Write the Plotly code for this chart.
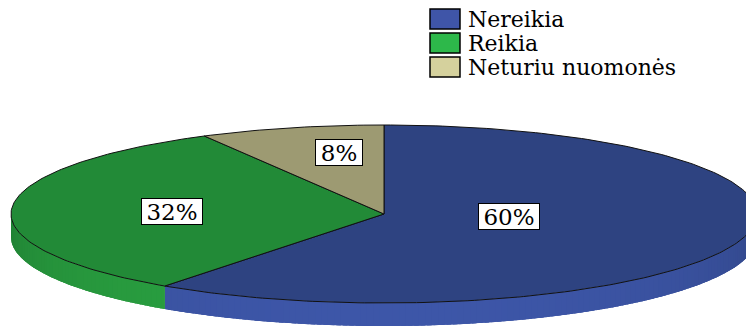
import math
import plotly.graph_objects as go

# ---- data ----
categories = ["Nereikia", "Reikia", "Neturiu nuomonės"]
values = [60, 32, 8]
labels = [f"{v}%" for v in values]

# ---- styles ----
top_colors = ["#2E4381", "#228A37", "#9D9A72"]
side_light = ["#3D56A8", "#2AA141", "#B5B288"]
side_dark = ["#2C407C", "#1E7A31", "#8E8B66"]
legend_colors = ["#3F55A8", "#2DB84A", "#D5D19D"]
label_offsets = [(125, 2), (-212, -3), (-45, -62)]  # label centre relative to pie centre (px)

W, H = 746, 328
CX, CY, RX, RY, DEPTH = 384, 214, 373, 89, 23
FONT = "DejaVu Serif"


def pt(a_deg, dy=0.0):
    a = math.radians(a_deg)
    return CX + RX * math.cos(a), CY - RY * math.sin(a) + dy


def arc(a0, a1, n, dy=0.0):
    xs, ys = [], []
    for i in range(n + 1):
        x, y = pt(a0 + (a1 - a0) * i / n, dy)
        xs.append(x)
        ys.append(y)
    return xs, ys


def mix(c1, c2, t):
    a = [int(c1[i:i + 2], 16) for i in (1, 3, 5)]
    b = [int(c2[i:i + 2], 16) for i in (1, 3, 5)]
    return "rgb(%d,%d,%d)" % tuple(round(a[k] + (b[k] - a[k]) * t) for k in range(3))


fig = go.Figure()
total = sum(values)
angles = []
cum = 0
for v in values:
    a0 = 90 - 360 * cum / total
    a1 = 90 - 360 * (cum + v) / total
    angles.append((a0, a1))
    cum += v

# side walls (visible lower half)
for i, (a0, a1) in enumerate(angles):
    for k in (-360, 0, 360):
        lo = max(a1, -180 + k)
        hi = min(a0, 0 + k)
        if hi <= lo:
            continue
        n = max(4, int(hi - lo))
        xt, yt = arc(hi, lo, n)
        xb, yb = arc(lo, hi, n, DEPTH)
        base = mix(side_dark[i], side_light[i], 0.7)
        fig.add_trace(go.Scatter(
            x=xt + xb + [xt[0]], y=yt + yb + [yt[0]], mode="lines",
            fill="toself", fillcolor=base, line=dict(width=0),
            hoverinfo="skip", showlegend=False))
        nstr = max(1, int(hi - lo))
        step = (hi - lo) / nstr
        for s in range(nstr):
            b0 = min(hi, hi - step * s + 0.35)
            b1 = max(lo, hi - step * (s + 1) - 0.35)
            mid = math.radians(hi - step * (s + 0.5))
            t = max(0.0, -math.sin(mid)) ** 0.6
            col = mix(side_dark[i], side_light[i], t)
            xt, yt = arc(b0, b1, 2)
            xb, yb = arc(b1, b0, 2, DEPTH)
            fig.add_trace(go.Scatter(
                x=xt + xb + [xt[0]], y=yt + yb + [yt[0]], mode="lines",
                fill="toself", fillcolor=col, line=dict(width=0),
                hoverinfo="skip", showlegend=False))

# top faces
for i, (a0, a1) in enumerate(angles):
    n = max(4, int(abs(a0 - a1)))
    xs, ys = arc(a0, a1, n)
    fig.add_trace(go.Scatter(
        x=[CX] + xs + [CX], y=[CY] + ys + [CY], mode="lines",
        fill="toself", fillcolor=top_colors[i], line=dict(color="#111111", width=1),
        name=categories[i], hoverinfo="skip", showlegend=False))

# percentage labels
for i, lab in enumerate(labels):
    dx, dy = label_offsets[i]
    fig.add_annotation(
        x=CX + dx, y=CY + dy, xref="x", yref="y", text=lab, showarrow=False,
        font=dict(family=FONT, size=23, color="black"),
        bgcolor="white", bordercolor="black", borderwidth=1, borderpad=1,
        width=14 * len(lab) + 16, height=23, align="center", valign="middle")

# legend
for i, name in enumerate(categories):
    y0 = 9 + 24 * i
    fig.add_shape(type="rect", x0=430, x1=460, y0=y0, y1=y0 + 20, xref="x", yref="y",
                  fillcolor=legend_colors[i], line=dict(color="black", width=1.5))
    fig.add_annotation(x=466, y=y0 + 10, xref="x", yref="y", text=name, showarrow=False,
                       xanchor="left", yanchor="middle", height=22,
                       font=dict(family=FONT, size=22, color="black"))

fig.update_xaxes(range=[0, W], visible=False, fixedrange=True)
fig.update_yaxes(range=[H, 0], visible=False, fixedrange=True)
fig.update_layout(width=W, height=H, autosize=False, margin=dict(l=0, r=0, t=0, b=0),
                  paper_bgcolor="white", plot_bgcolor="white", showlegend=False,
                  hovermode=False)
fig.write_html("out.html", config={"displayModeBar": False})
